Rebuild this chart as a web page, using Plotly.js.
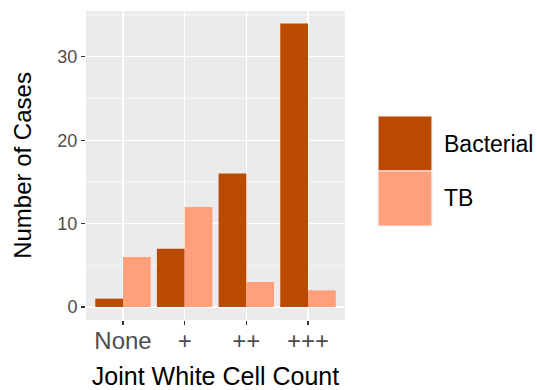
<!DOCTYPE html>
<html>
<head>
<meta charset="utf-8">
<script src="https://cdn.plot.ly/plotly-3.0.1.min.js"></script>
<style>html,body{margin:0;padding:0;background:#fff;}#chart{width:537px;height:390px;}</style>
</head>
<body>
<div id="chart"></div>
<script>
var categories = ["None", "+", "++", "+++"];
var seriesNames = ["Bacterial", "TB"];
var bacterial = [1, 7, 16, 34];
var tb = [6, 12, 3, 2];
var colors = ["#BA4A00", "#FFA07A"];
var yTicks = [0, 10, 20, 30];

var font = "Liberation Sans, Arial, sans-serif";
var traces = [
  {type: "bar", name: seriesNames[0], x: categories, y: bacterial, marker: {color: colors[0]}, showlegend: false, hoverinfo: "x+y+name"},
  {type: "bar", name: seriesNames[1], x: categories, y: tb, marker: {color: colors[1]}, showlegend: false, hoverinfo: "x+y+name"}
];

var shapes = [];
var annotations = [];
// minor horizontal grid lines
[5, 15, 25, 35].forEach(function (v) {
  shapes.push({type: "line", xref: "paper", yref: "y", x0: 0, x1: 1, y0: v, y1: v, line: {color: "#ffffff", width: 0.6}, layer: "below"});
});
// legend (ggplot-style large keys)
var keyX0 = 378, keyW = 54, keyH = 55, keyY0 = 116;
function px(x) { return (x - 86) / (345 - 86); }
function py(y) { return (320 - y) / (320 - 11); }
seriesNames.forEach(function (n, i) {
  var y0 = keyY0 + i * keyH;
  shapes.push({type: "rect", xref: "paper", yref: "paper", x0: px(keyX0), x1: px(keyX0 + keyW), y0: py(y0), y1: py(y0 + keyH),
    fillcolor: colors[i], line: {color: "#f2f2f2", width: 1.2}});
  annotations.push({xref: "paper", yref: "paper", x: px(keyX0 + keyW + 10), y: py(y0 + keyH / 2), xanchor: "left", yanchor: "middle",
    text: n, showarrow: false, font: {family: font, size: 23, color: "#000"}});
});

var layout = {
  width: 537, height: 390,
  margin: {l: 86, r: 192, t: 11, b: 70},
  paper_bgcolor: "#ffffff",
  plot_bgcolor: "#EBEBEB",
  barmode: "group",
  bargap: 0.1,
  bargroupgap: 0,
  showlegend: false,
  font: {family: font},
  xaxis: {
    type: "category", range: [-0.6, 3.6],
    showgrid: true, gridcolor: "#ffffff", gridwidth: 1.2,
    ticks: "outside", ticklen: 4, tickwidth: 1.1, tickcolor: "#333333",
    tickfont: {family: font, size: 24, color: "#4D4D4D"},
    ticklabelstandoff: -5,
    zeroline: false, showline: false, automargin: false,
    title: {text: "Joint White Cell Count", font: {family: font, size: 25, color: "#000"}, standoff: 17}
  },
  yaxis: {
    range: [-1.56, 35.5],
    tickvals: yTicks, ticktext: yTicks.map(String),
    showgrid: true, gridcolor: "#ffffff", gridwidth: 1.2,
    ticks: "outside", ticklen: 4, tickwidth: 1.1, tickcolor: "#333333",
    tickfont: {family: font, size: 18, color: "#4D4D4D"},
    zeroline: false, showline: false, automargin: false,
    title: {text: "Number of Cases", font: {family: font, size: 24, color: "#000"}, standoff: 18}
  },
  shapes: shapes,
  annotations: annotations
};

Plotly.newPlot("chart", traces, layout, {displayModeBar: false, staticPlot: true});
</script>
</body>
</html>
